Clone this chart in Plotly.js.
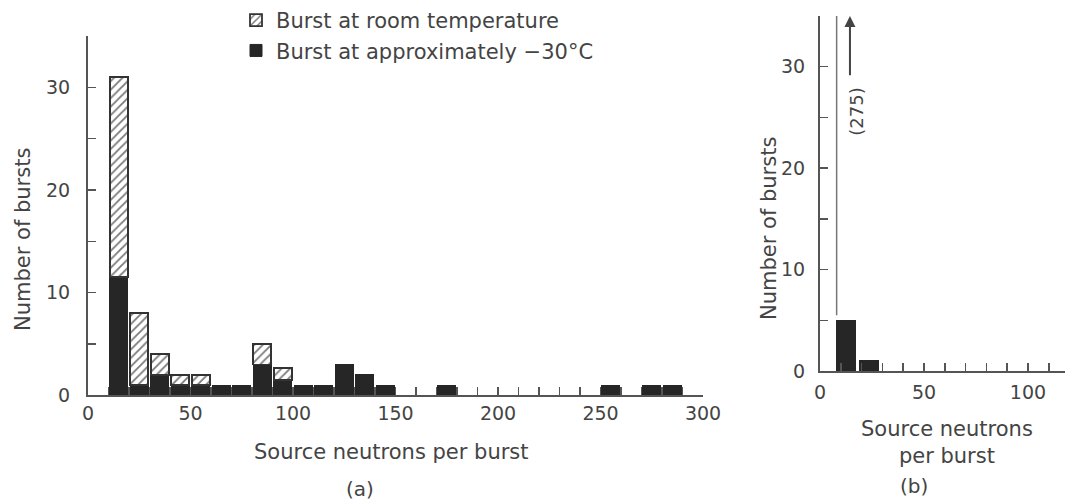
<!DOCTYPE html>
<html><head><meta charset="utf-8">
<script src="https://cdn.plot.ly/plotly-3.0.1.min.js"></script>
<style>html,body{margin:0;padding:0;background:#fff}#chart{width:1065px;height:500px}</style>
</head><body><div id="chart"></div>
<script>
// Panel (a): bin centres (source neutrons per burst) and counts
const binCentersA = [15, 25, 35, 45, 55, 65, 75, 85, 95, 105, 115, 125, 135, 145, 175, 255, 275, 285];
const coldCountsA = [11.5, 1, 2, 1, 1, 1, 1, 3, 1.5, 1, 1, 3, 2, 1, 1, 1, 1, 1];
const roomCountsA = [19.5, 7, 2, 1, 1, null, null, 2, 1.2, null, null, null, null, null, null, null, null, null];
// Panel (b)
const binCentersB = [12.5, 23.5];
const coldCountsB = [5, 1];
const offscaleLabel = '(275)';
const offscaleX = 8;
const arrowX = 14.4;
const arrowFromY = 29;
const arrowToY = 35;
// Labels
const seriesRoom = 'Burst at room temperature';
const seriesCold = 'Burst at approximately \u221230\u00b0C';
const xTitle = 'Source neutrons per burst';
const xTitleB = 'Source neutrons<br>per burst';
const yTitle = 'Number of bursts';

const TXT = '#444';
const AX = '#555';
const DARK = '#262626';
const FONT = 'DejaVu Sans, sans-serif';

const data = [
  {type:'bar', x:binCentersA, y:coldCountsA, width:8.8, name:seriesCold, legendgroup:'c', legendrank:2,
   marker:{color:DARK, line:{color:DARK, width:1}}, xaxis:'x', yaxis:'y', hoverinfo:'x+y'},
  {type:'bar', x:binCentersA, y:roomCountsA, width:8.8, name:seriesRoom, legendgroup:'r', legendrank:1,
   marker:{color:'#fff', line:{color:'#333', width:1.8},
     pattern:{shape:'/', fgcolor:'#7a7a7a', bgcolor:'#fff', size:6, solidity:0.3}},
   xaxis:'x', yaxis:'y', hoverinfo:'x+y'},
  {type:'bar', x:binCentersB, y:coldCountsB, width:9.5, name:seriesCold, showlegend:false,
   marker:{color:DARK, line:{color:DARK, width:1}}, xaxis:'x2', yaxis:'y2'}
];

function axBase(){
  return {showline:true, linecolor:AX, linewidth:2, ticks:'inside', ticklen:8, tickwidth:1.5,
    tickcolor:AX, showgrid:false, zeroline:false, tickfont:{family:FONT, size:19, color:TXT},
    fixedrange:true};
}
const minorX = {dtick:10, ticks:'inside', ticklen:8, tickwidth:1.5, tickcolor:AX, showgrid:false};
const minorY = {dtick:5, ticks:'inside', ticklen:8, tickwidth:1.5, tickcolor:AX, showgrid:false};

const layout = {
  width:1065, height:500, margin:{l:0, r:0, t:0, b:0},
  paper_bgcolor:'#fff', plot_bgcolor:'#fff', barmode:'stack',
  font:{family:FONT, color:TXT},
  showlegend:true,
  legend:{x:236/1065, y:1.0, xanchor:'left', yanchor:'top', traceorder:'normal',
    tracegroupgap:1, font:{family:FONT, size:21, color:TXT}, bgcolor:'rgba(0,0,0,0)'},
  xaxis:Object.assign(axBase(), {domain:[88/1065, 703/1065], range:[0,300], tick0:0, dtick:50,
    minor:minorX, anchor:'y', ticklabelstandoff:0}),
  yaxis:Object.assign(axBase(), {domain:[0.2092, 0.928], range:[0,35], tick0:0, dtick:10,
    minor:minorY, anchor:'x', ticklabelstandoff:12}),
  xaxis2:Object.assign(axBase(), {domain:[820/1065, 1], range:[0,117.8], tick0:0, dtick:50,
    minor:minorX, anchor:'y2', ticklabelstandoff:3}),
  yaxis2:Object.assign(axBase(), {domain:[0.258, 0.968], range:[0,35], tick0:0, dtick:10,
    minor:minorY, anchor:'x2', ticklabelstandoff:9}),
  shapes:[
    {type:'line', xref:'x2', yref:'y2', x0:offscaleX, x1:offscaleX, y0:coldCountsB[0]+0.5, y1:35,
     line:{color:'#777', width:1.5}}
  ],
  annotations:[
    {xref:'x2', yref:'y2', x:arrowX, y:arrowToY, axref:'x2', ayref:'y2', ax:arrowX, ay:arrowFromY,
     text:'', showarrow:true, arrowhead:2, arrowsize:1.1, arrowwidth:2, arrowcolor:'#444'},
    {xref:'x2', yref:'y2', x:17.5, y:25.6, text:offscaleLabel, showarrow:false, textangle:-90,
     font:{family:FONT, size:18, color:TXT}},
    {xref:'paper', yref:'paper', x:391/1065, y:1-452/500, text:xTitle, showarrow:false,
     xanchor:'center', yanchor:'middle', font:{family:FONT, size:21, color:TXT}},
    {xref:'paper', yref:'paper', x:947/1065, y:1-442/500, text:xTitleB, showarrow:false,
     xanchor:'center', yanchor:'middle', font:{family:FONT, size:21, color:TXT}},
    {xref:'paper', yref:'paper', x:23/1065, y:1-240/500, text:yTitle, showarrow:false, textangle:-90,
     xanchor:'center', yanchor:'middle', font:{family:FONT, size:21, color:TXT}},
    {xref:'paper', yref:'paper', x:769/1065, y:1-229/500, text:yTitle, showarrow:false, textangle:-90,
     xanchor:'center', yanchor:'middle', font:{family:FONT, size:21, color:TXT}},
    {xref:'paper', yref:'paper', x:360/1065, y:1-489/500, text:'(a)', showarrow:false,
     xanchor:'center', yanchor:'middle', font:{family:FONT, size:20, color:TXT}},
    {xref:'paper', yref:'paper', x:914/1065, y:1-486/500, text:'(b)', showarrow:false,
     xanchor:'center', yanchor:'middle', font:{family:FONT, size:20, color:TXT}}
  ]
};

Plotly.newPlot('chart', data, layout, {displayModeBar:false, staticPlot:true});
</script>
</body></html>
